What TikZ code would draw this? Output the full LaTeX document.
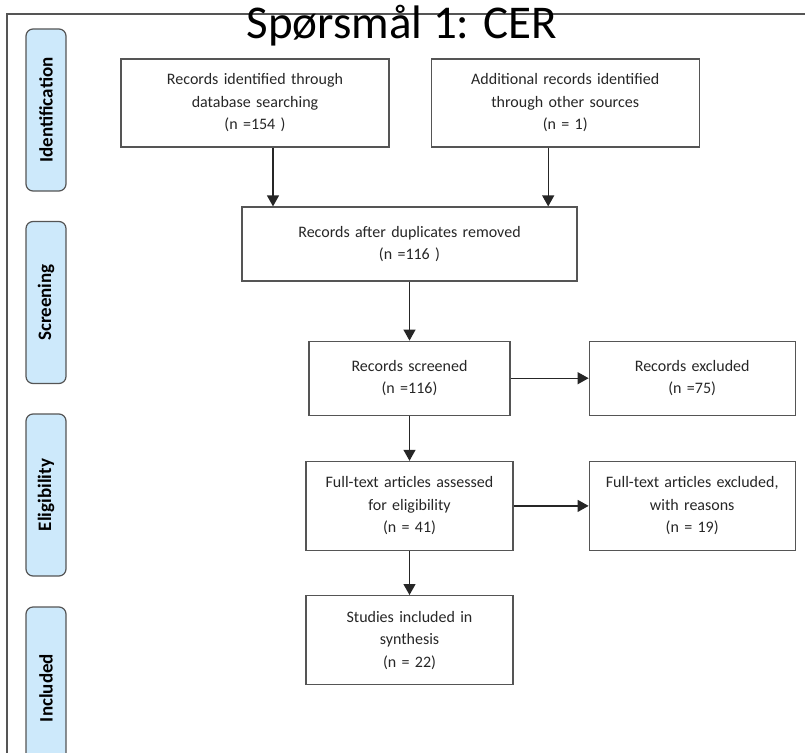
\documentclass[tikz,border=0pt]{standalone}
\usepackage{fontspec}
\setmainfont{Carlito}
\usetikzlibrary{arrows.meta,positioning}
\definecolor{stageblue}{HTML}{CDE9FB}
\definecolor{boxline}{HTML}{555555}

\tikzset{
  box/.style={draw=boxline, line width=1.2pt, align=center, inner sep=0pt,
    text=black!85, font=\fontsize{16}{22.5}\selectfont},
  stage/.style={draw=boxline, fill=stageblue, rounded corners=7pt, line width=1.2pt,
    rotate=90, minimum width=162pt, minimum height=40pt, inner sep=0pt,
    font=\fontsize{19}{21}\selectfont\bfseries},
  arr/.style={-{Triangle[width=12pt,length=11pt]}, color=black!85, line width=1.2pt},
}

\begin{document}
\begin{tikzpicture}[x=1pt,y=-1pt]
  \useasboundingbox (0,0) rectangle (805,752);
  % frame and title
  \draw[boxline, line width=1.3pt] (805,14) -- (7,14) -- (7,760);
  \node[anchor=base, font=\fontsize{47}{50}\selectfont] (title) at (402,39) {Spørsmål 1: CER};

  % stages
  \node[stage] (ident) at (46,110) {Identification};
  \node[stage] (screen) at (46,302.5) {Screening};
  \node[stage] (elig) at (46,495) {Eligibility};
  \node[stage] (incl) at (46,688) {Included};

  % identification
  \node[box, text width=268pt, minimum height=88pt] (db) at (255,103)
    {Records identified through\\database searching\\(n =154 )};
  \node[box, text width=268pt, minimum height=88pt] (other) [right=41pt of db]
    {Additional records identified\\through other sources\\(n = 1)};

  % screening
  \node[box, text width=335pt, minimum height=74pt] (dup) at (409.5,244)
    {Records after duplicates removed\\(n =116 )};
  \node[box, text width=201pt, minimum height=74pt] (screened) [below=59pt of dup]
    {Records screened\\(n =116)};
  \node[box, text width=206pt, minimum height=74pt] (excl) [right=78pt of screened]
    {Records excluded\\(n =75)};

  % eligibility
  \node[box, text width=207pt, minimum height=89pt] (full) [below=45pt of screened]
    {Full-text articles assessed\\for eligibility\\(n = 41)};
  \node[box, text width=206pt, minimum height=89pt] (fullex) [right=75pt of full]
    {Full-text articles excluded,\\with reasons\\(n = 19)};

  % included
  \node[box, text width=207pt, minimum height=89pt] (synth) [below=44pt of full]
    {Studies included in\\synthesis\\(n = 22)};

  \path[arr]
    ([xshift=18pt]db.south) edge ([xshift=18pt]db.south |- dup.north)
    ([xshift=-17pt]other.south) edge ([xshift=-17pt]other.south |- dup.north)
    (dup) edge (screened)
    (screened) edge (excl)
    (screened) edge (full)
    (full) edge (fullex)
    (full) edge (synth);
\end{tikzpicture}
\end{document}
